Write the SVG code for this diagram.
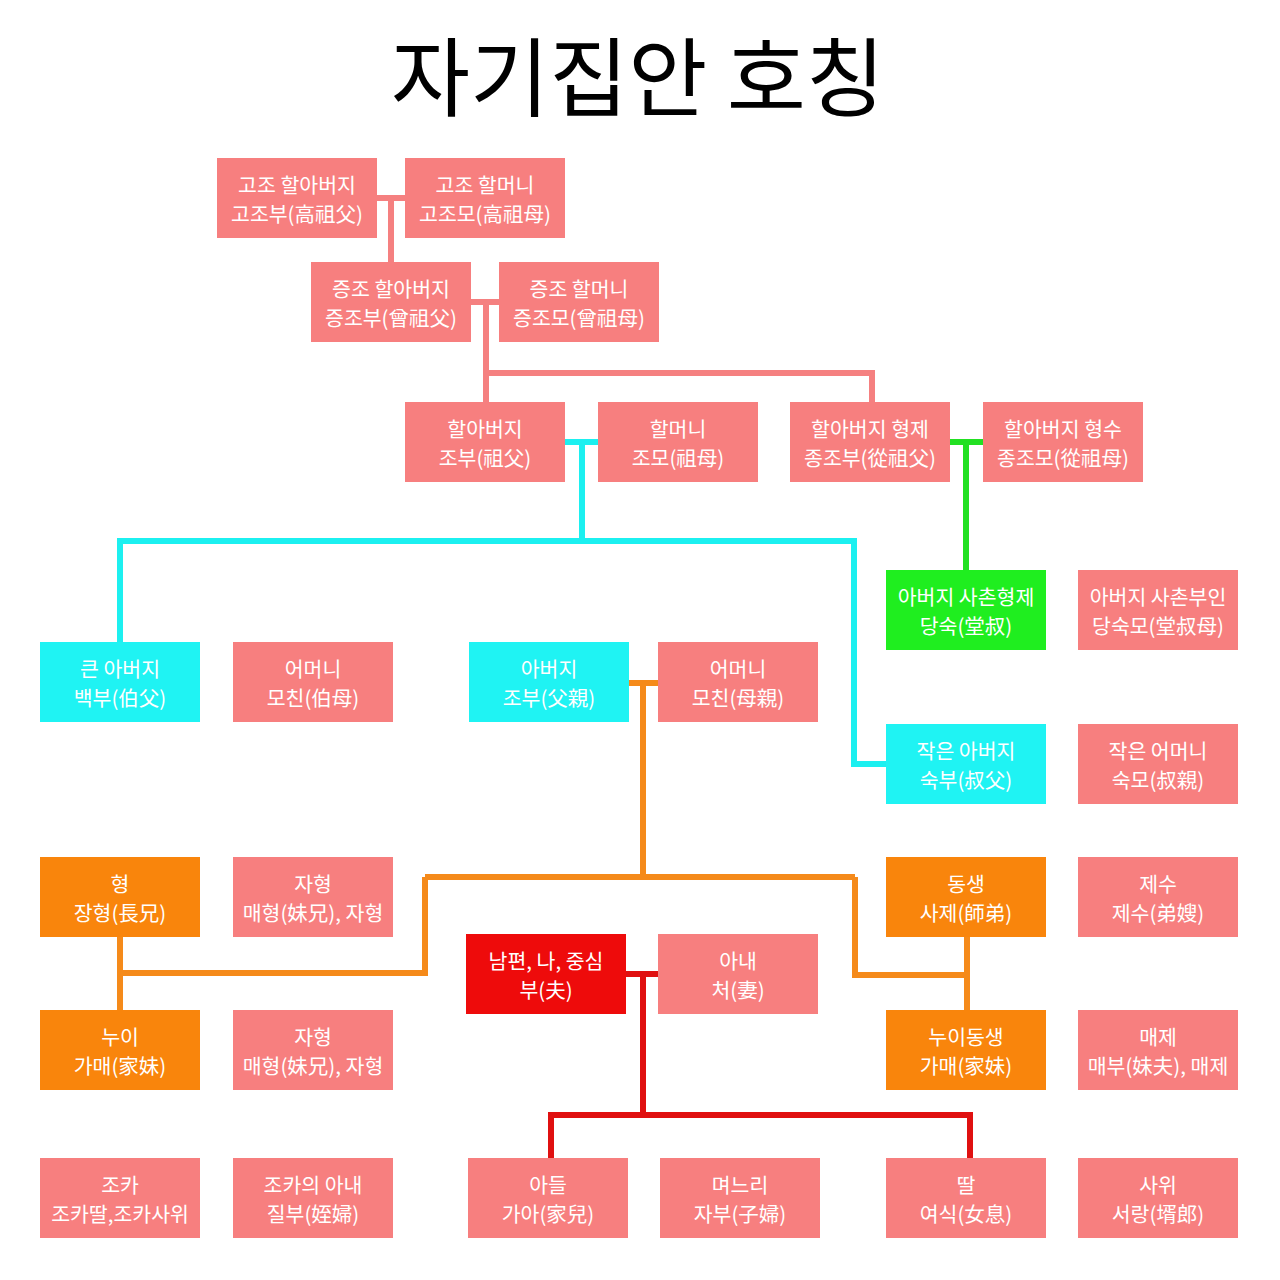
<svg xmlns="http://www.w3.org/2000/svg" width="1280" height="1280" viewBox="0 0 1280 1280">
<style>
.t{font-family:"Noto Sans CJK KR","Noto Sans",sans-serif;font-size:20.5px;fill:#ffffff;text-anchor:middle}
.title{font-family:"Noto Sans CJK KR","Noto Sans",sans-serif;font-size:86px;fill:#000000;text-anchor:middle}
.pink{fill:#F77F7F}
.cyan{fill:#1FF3F3}
.green{fill:#1FEE1F}
.orange{fill:#F9850C}
.red{fill:#EE0B0B}
.c{fill:none;stroke-width:6;stroke-linejoin:miter;stroke-linecap:butt}
.cp{stroke:#F58080}
.cc{stroke:#1CF0F0}
.cg{stroke:#22E022}
.co{stroke:#F58A1A}
.cr{stroke:#E01010}
</style>
<rect width="1280" height="1280" fill="#ffffff"/>
<text class="title" x="638" y="110">자기집안 호칭</text>
<g id="connectors">
<path class="c cp" d="M377 198H405M391 198V262"/>
<path class="c cp" d="M471 302H499M486 302V402M486 373H872V402"/>
<path class="c cc" d="M565 442H598M582 442V541M120 642V541H854V764H886"/>
<path class="c cg" d="M950 442H983M966 442V570"/>
<path class="c co" d="M629 683H658M643 683V877M425 877H855M425 877V973H120M120 937V1010M855 877V975H967M967 937V1010"/>
<path class="c cr" d="M626 974H658M643 974V1115M551 1158V1115H970V1158"/>
</g>
<g id="n1"><rect class="pink" x="217" y="158" width="160" height="80"/><text class="t" x="297" y="193">고조 할아버지</text><text class="t" x="297" y="222">고조부(高祖父)</text></g>
<g id="n2"><rect class="pink" x="405" y="158" width="160" height="80"/><text class="t" x="485" y="193">고조 할머니</text><text class="t" x="485" y="222">고조모(高祖母)</text></g>
<g id="n3"><rect class="pink" x="311" y="262" width="160" height="80"/><text class="t" x="391" y="297">증조 할아버지</text><text class="t" x="391" y="326">증조부(曾祖父)</text></g>
<g id="n4"><rect class="pink" x="499" y="262" width="160" height="80"/><text class="t" x="579" y="297">증조 할머니</text><text class="t" x="579" y="326">증조모(曾祖母)</text></g>
<g id="n5"><rect class="pink" x="405" y="402" width="160" height="80"/><text class="t" x="485" y="437">할아버지</text><text class="t" x="485" y="466">조부(祖父)</text></g>
<g id="n6"><rect class="pink" x="598" y="402" width="160" height="80"/><text class="t" x="678" y="437">할머니</text><text class="t" x="678" y="466">조모(祖母)</text></g>
<g id="n7"><rect class="pink" x="790" y="402" width="160" height="80"/><text class="t" x="870" y="437">할아버지 형제</text><text class="t" x="870" y="466">종조부(從祖父)</text></g>
<g id="n8"><rect class="pink" x="983" y="402" width="160" height="80"/><text class="t" x="1063" y="437">할아버지 형수</text><text class="t" x="1063" y="466">종조모(從祖母)</text></g>
<g id="n9"><rect class="green" x="886" y="570" width="160" height="80"/><text class="t" x="966" y="605">아버지 사촌형제</text><text class="t" x="966" y="634">당숙(堂叔)</text></g>
<g id="n10"><rect class="pink" x="1078" y="570" width="160" height="80"/><text class="t" x="1158" y="605">아버지 사촌부인</text><text class="t" x="1158" y="634">당숙모(堂叔母)</text></g>
<g id="n11"><rect class="cyan" x="40" y="642" width="160" height="80"/><text class="t" x="120" y="677">큰 아버지</text><text class="t" x="120" y="706">백부(伯父)</text></g>
<g id="n12"><rect class="pink" x="233" y="642" width="160" height="80"/><text class="t" x="313" y="677">어머니</text><text class="t" x="313" y="706">모친(伯母)</text></g>
<g id="n13"><rect class="cyan" x="469" y="642" width="160" height="80"/><text class="t" x="549" y="677">아버지</text><text class="t" x="549" y="706">조부(父親)</text></g>
<g id="n14"><rect class="pink" x="658" y="642" width="160" height="80"/><text class="t" x="738" y="677">어머니</text><text class="t" x="738" y="706">모친(母親)</text></g>
<g id="n15"><rect class="cyan" x="886" y="724" width="160" height="80"/><text class="t" x="966" y="759">작은 아버지</text><text class="t" x="966" y="788">숙부(叔父)</text></g>
<g id="n16"><rect class="pink" x="1078" y="724" width="160" height="80"/><text class="t" x="1158" y="759">작은 어머니</text><text class="t" x="1158" y="788">숙모(叔親)</text></g>
<g id="n17"><rect class="orange" x="40" y="857" width="160" height="80"/><text class="t" x="120" y="892">형</text><text class="t" x="120" y="921">장형(長兄)</text></g>
<g id="n18"><rect class="pink" x="233" y="857" width="160" height="80"/><text class="t" x="313" y="892">자형</text><text class="t" x="313" y="921">매형(妹兄), 자형</text></g>
<g id="n19"><rect class="orange" x="886" y="857" width="160" height="80"/><text class="t" x="966" y="892">동생</text><text class="t" x="966" y="921">사제(師弟)</text></g>
<g id="n20"><rect class="pink" x="1078" y="857" width="160" height="80"/><text class="t" x="1158" y="892">제수</text><text class="t" x="1158" y="921">제수(弟嫂)</text></g>
<g id="n21"><rect class="red" x="466" y="934" width="160" height="80"/><text class="t" x="546" y="969">남편, 나, 중심</text><text class="t" x="546" y="998">부(夫)</text></g>
<g id="n22"><rect class="pink" x="658" y="934" width="160" height="80"/><text class="t" x="738" y="969">아내</text><text class="t" x="738" y="998">처(妻)</text></g>
<g id="n23"><rect class="orange" x="40" y="1010" width="160" height="80"/><text class="t" x="120" y="1045">누이</text><text class="t" x="120" y="1074">가매(家妹)</text></g>
<g id="n24"><rect class="pink" x="233" y="1010" width="160" height="80"/><text class="t" x="313" y="1045">자형</text><text class="t" x="313" y="1074">매형(妹兄), 자형</text></g>
<g id="n25"><rect class="orange" x="886" y="1010" width="160" height="80"/><text class="t" x="966" y="1045">누이동생</text><text class="t" x="966" y="1074">가매(家妹)</text></g>
<g id="n26"><rect class="pink" x="1078" y="1010" width="160" height="80"/><text class="t" x="1158" y="1045">매제</text><text class="t" x="1158" y="1074">매부(妹夫), 매제</text></g>
<g id="n27"><rect class="pink" x="40" y="1158" width="160" height="80"/><text class="t" x="120" y="1193">조카</text><text class="t" x="120" y="1222">조카딸,조카사위</text></g>
<g id="n28"><rect class="pink" x="233" y="1158" width="160" height="80"/><text class="t" x="313" y="1193">조카의 아내</text><text class="t" x="313" y="1222">질부(姪婦)</text></g>
<g id="n29"><rect class="pink" x="468" y="1158" width="160" height="80"/><text class="t" x="548" y="1193">아들</text><text class="t" x="548" y="1222">가아(家兒)</text></g>
<g id="n30"><rect class="pink" x="660" y="1158" width="160" height="80"/><text class="t" x="740" y="1193">며느리</text><text class="t" x="740" y="1222">자부(子婦)</text></g>
<g id="n31"><rect class="pink" x="886" y="1158" width="160" height="80"/><text class="t" x="966" y="1193">딸</text><text class="t" x="966" y="1222">여식(女息)</text></g>
<g id="n32"><rect class="pink" x="1078" y="1158" width="160" height="80"/><text class="t" x="1158" y="1193">사위</text><text class="t" x="1158" y="1222">서랑(壻郎)</text></g>
</svg>
